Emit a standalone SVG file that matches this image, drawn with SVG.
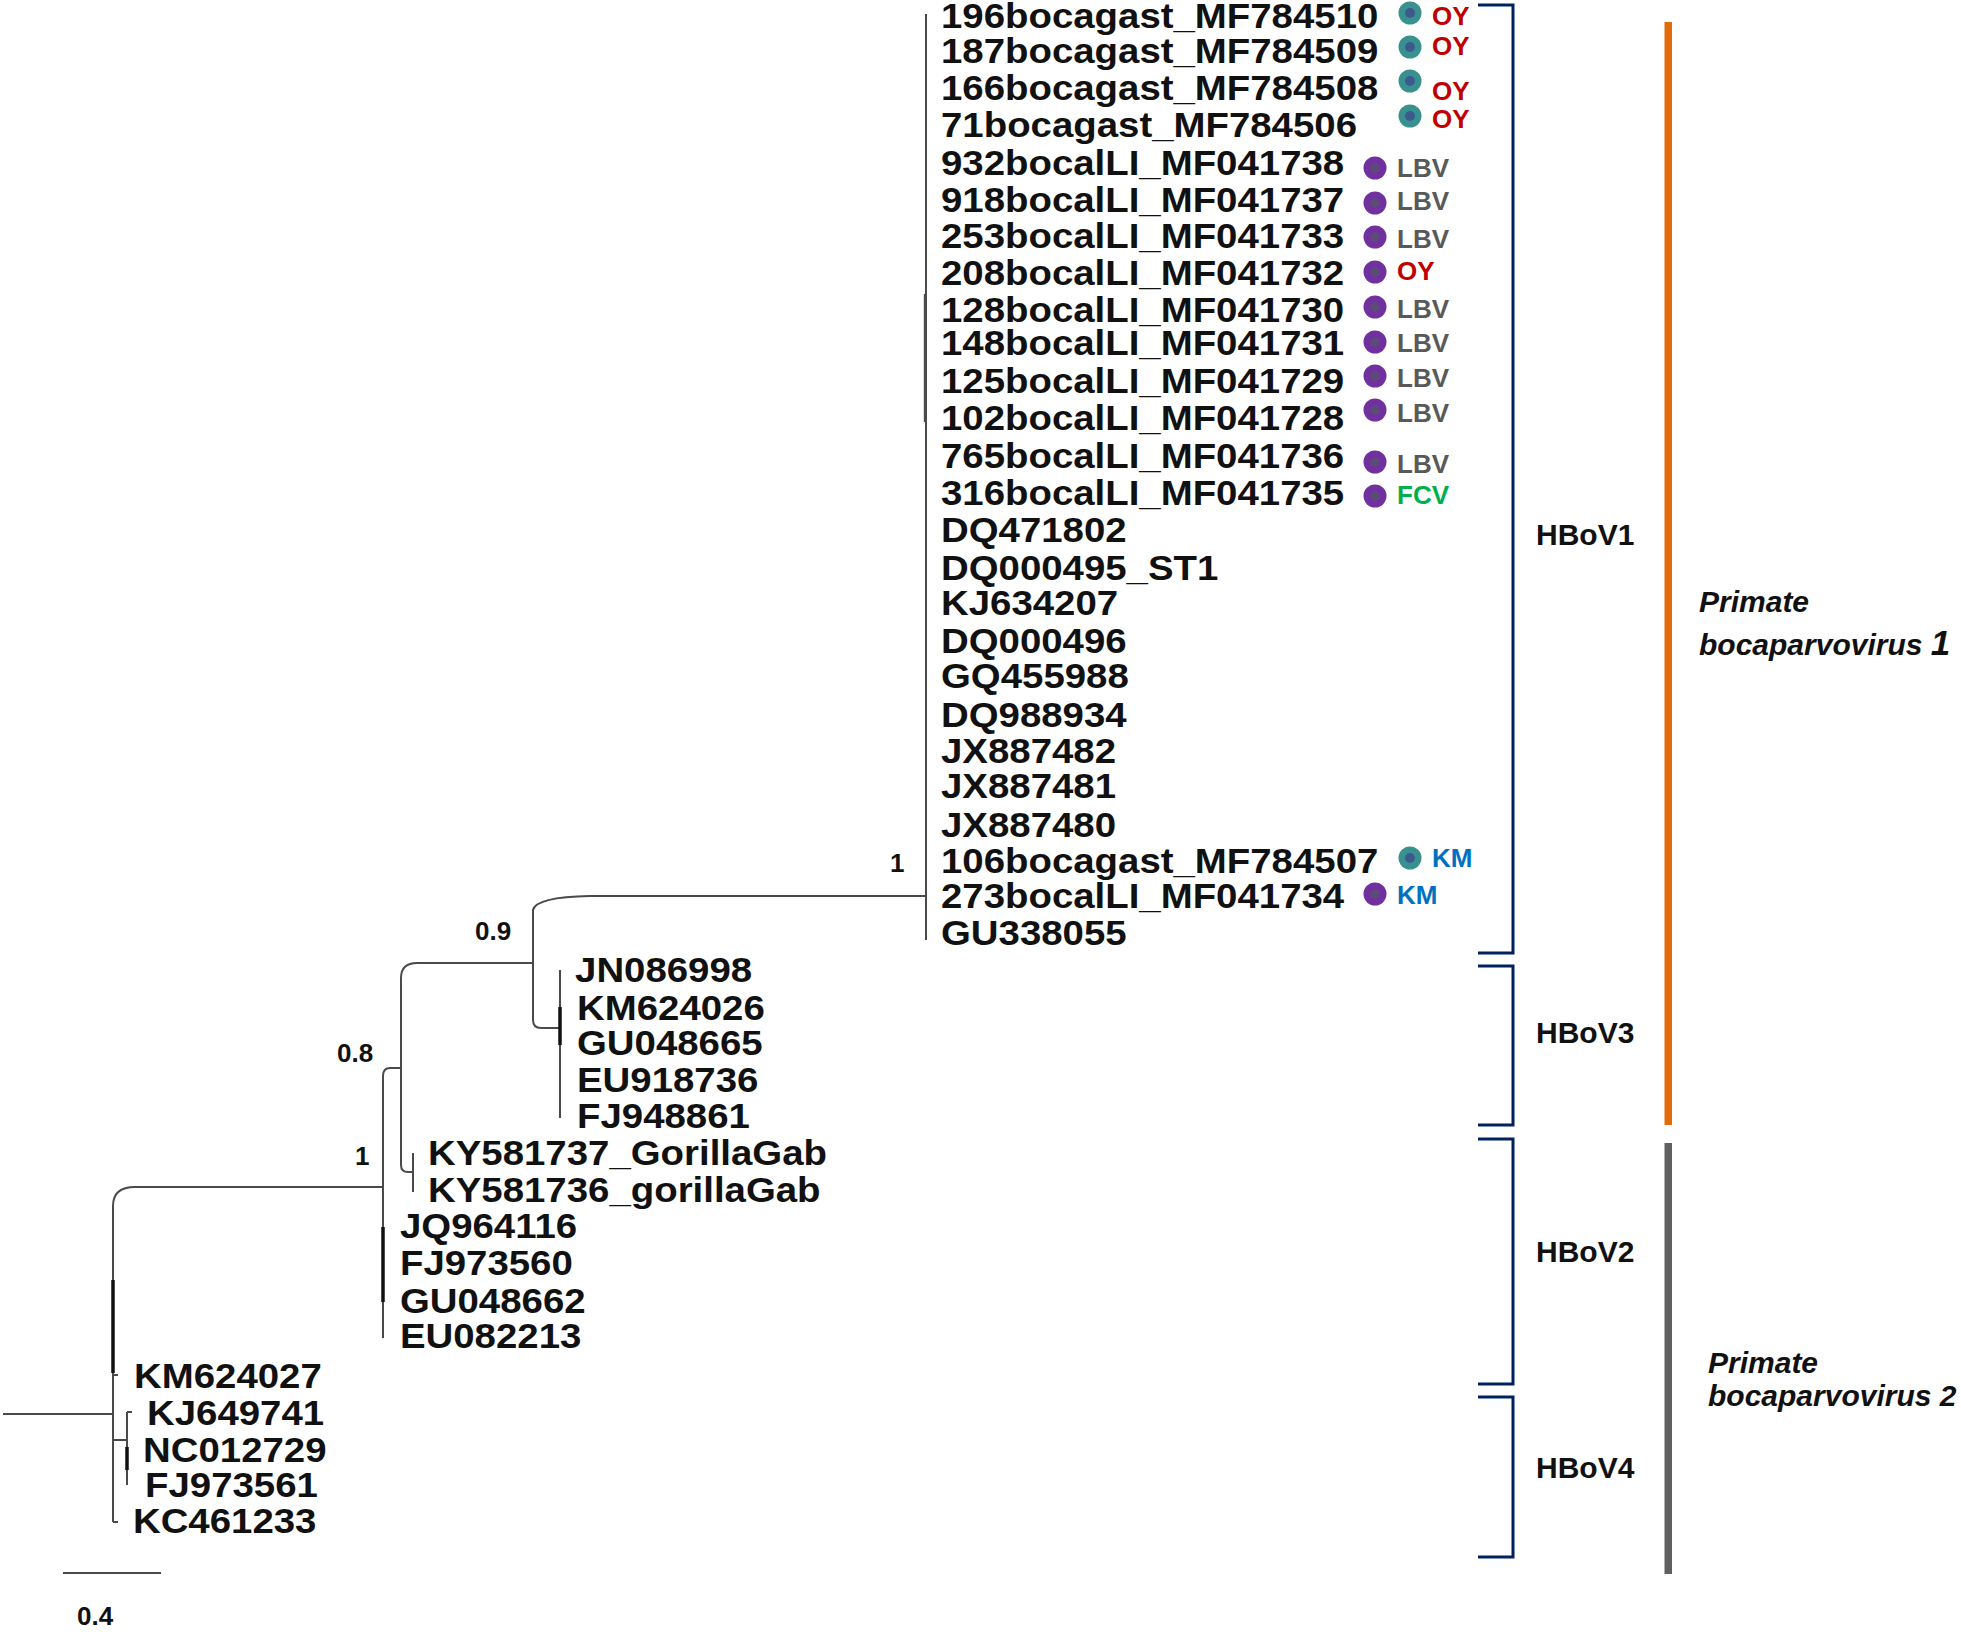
<svg xmlns="http://www.w3.org/2000/svg" xmlns:xlink="http://www.w3.org/1999/xlink" width="1961" height="1637" viewBox="0 0 1961 1637">
<style>
.br{stroke:#4a4a4a;stroke-width:2;fill:none}
.thk{stroke:#111;stroke-width:3.5;fill:none}
.lbl{font-family:"Liberation Sans",Arial,sans-serif;font-weight:bold;font-size:35px;fill:#111}
.st{font-family:"Liberation Sans",Arial,sans-serif;font-weight:bold;font-size:26px}
.oy{fill:#c00000}.lbv{fill:#595959}.fcv{fill:#00b050}.km{fill:#0070c0}
.sup{font-family:"Liberation Sans",Arial,sans-serif;font-weight:bold;font-size:26px;fill:#111}
.bkt{stroke:#002060;stroke-width:3;fill:none}
.grp{font-family:"Liberation Sans",Arial,sans-serif;font-weight:bold;font-size:30px;fill:#111}
.sp{font-family:"Liberation Sans",Arial,sans-serif;font-weight:bold;font-style:italic;font-size:30px;fill:#111}
</style>
<defs>
<g id="teal"><circle r="11.5" fill="#38918f"/><circle r="5" fill="#3d5a8c"/></g>
<g id="purp"><circle r="11.5" fill="#7030a0"/><circle r="5" fill="#5e4a7a"/></g>
</defs>
<rect width="1961" height="1637" fill="#fff"/>

<g id="connectors">
<path class="br" d="M3 1414 H113"/>
<path class="br" d="M113 1522 V1206 Q113 1187 135 1187 H383"/>
<path class="thk" d="M113 1280 V1373"/>
<path class="br" d="M113 1375 H118 M113 1522 H118 M113 1440 H127 M127 1412 V1485 M127 1412 H132"/>
<path class="thk" d="M127 1447 V1470"/>
<path class="br" d="M383 1338 V1076 Q383 1068 390 1068 H401"/>
<path class="thk" d="M383 1227 V1302"/>
<path class="br" d="M533 963 H417 Q401 963 401 978 V1165 Q401 1172 408 1172 H413 M413 1153 V1192"/>
<path class="br" d="M926 896 H590 Q536 897 533 910 V1020 Q533 1028 541 1028 H560 M560 970 V1118"/>
<path class="thk" d="M560 1007 V1045"/>
<path class="br" d="M926 14 V940"/>
<path class="br" d="M924.8 294 V422" stroke-width="1.5"/>
<path class="br" d="M63 1573 H161" stroke-width="2.5"/>
</g>

<g id="support">
<text class="sup" x="890" y="872">1</text>
<text class="sup" x="475" y="940">0.9</text>
<text class="sup" x="337" y="1062">0.8</text>
<text class="sup" x="355" y="1165">1</text>
<text class="sup" x="77" y="1625" font-size="31">0.4</text>
</g>

<g id="leaves" transform="scale(1.097 1)" class="lbl">
<text x="857.8" y="28">196bocagast_MF784510</text>
<text x="857.8" y="63">187bocagast_MF784509</text>
<text x="857.8" y="100">166bocagast_MF784508</text>
<text x="857.8" y="137">71bocagast_MF784506</text>
<text x="857.8" y="175">932bocalLI_MF041738</text>
<text x="857.8" y="212">918bocalLI_MF041737</text>
<text x="857.8" y="248">253bocalLI_MF041733</text>
<text x="857.8" y="285">208bocalLI_MF041732</text>
<text x="857.8" y="322">128bocalLI_MF041730</text>
<text x="857.8" y="355">148bocalLI_MF041731</text>
<text x="857.8" y="393">125bocalLI_MF041729</text>
<text x="857.8" y="430">102bocalLI_MF041728</text>
<text x="857.8" y="468">765bocalLI_MF041736</text>
<text x="857.8" y="505">316bocalLI_MF041735</text>
<text x="857.8" y="542">DQ471802</text>
<text x="857.8" y="580">DQ000495_ST1</text>
<text x="857.8" y="615">KJ634207</text>
<text x="857.8" y="653">DQ000496</text>
<text x="857.8" y="688">GQ455988</text>
<text x="857.8" y="727">DQ988934</text>
<text x="857.8" y="763">JX887482</text>
<text x="857.8" y="798">JX887481</text>
<text x="857.8" y="837">JX887480</text>
<text x="857.8" y="873">106bocagast_MF784507</text>
<text x="857.8" y="908">273bocalLI_MF041734</text>
<text x="857.8" y="945">GU338055</text>
<text x="524.2" y="982">JN086998</text>
<text x="526" y="1020">KM624026</text>
<text x="526" y="1055">GU048665</text>
<text x="526" y="1092">EU918736</text>
<text x="526" y="1128">FJ948861</text>
<text x="390.2" y="1165">KY581737_GorillaGab</text>
<text x="390.2" y="1202">KY581736_gorillaGab</text>
<text x="364.6" y="1238">JQ964116</text>
<text x="364.6" y="1275">FJ973560</text>
<text x="364.6" y="1313">GU048662</text>
<text x="364.6" y="1348">EU082213</text>
<text x="122.2" y="1388">KM624027</text>
<text x="134" y="1425">KJ649741</text>
<text x="130.4" y="1462">NC012729</text>
<text x="132.2" y="1497">FJ973561</text>
<text x="121.2" y="1533">KC461233</text>
</g>

<g id="markers">
<use xlink:href="#teal" href="#teal" x="1410" y="13"/>
<use xlink:href="#teal" href="#teal" x="1410" y="47"/>
<use xlink:href="#teal" href="#teal" x="1410" y="81"/>
<use xlink:href="#teal" href="#teal" x="1410" y="116"/>
<use xlink:href="#purp" href="#purp" x="1375" y="168"/>
<use xlink:href="#purp" href="#purp" x="1375" y="203"/>
<use xlink:href="#purp" href="#purp" x="1375" y="237"/>
<use xlink:href="#purp" href="#purp" x="1375" y="272"/>
<use xlink:href="#purp" href="#purp" x="1375" y="307"/>
<use xlink:href="#purp" href="#purp" x="1375" y="342"/>
<use xlink:href="#purp" href="#purp" x="1375" y="376"/>
<use xlink:href="#purp" href="#purp" x="1375" y="410"/>
<use xlink:href="#purp" href="#purp" x="1375" y="462"/>
<use xlink:href="#purp" href="#purp" x="1375" y="496"/>
<use xlink:href="#teal" href="#teal" x="1410" y="858"/>
<use xlink:href="#purp" href="#purp" x="1375" y="894"/>
<text class="st oy" x="1432" y="25">OY</text>
<text class="st oy" x="1432" y="55">OY</text>
<text class="st oy" x="1432" y="100">OY</text>
<text class="st oy" x="1432" y="128">OY</text>
<text class="st lbv" x="1397" y="177">LBV</text>
<text class="st lbv" x="1397" y="210">LBV</text>
<text class="st lbv" x="1397" y="248">LBV</text>
<text class="st oy" x="1397" y="280">OY</text>
<text class="st lbv" x="1397" y="318">LBV</text>
<text class="st lbv" x="1397" y="352">LBV</text>
<text class="st lbv" x="1397" y="387">LBV</text>
<text class="st lbv" x="1397" y="422">LBV</text>
<text class="st lbv" x="1397" y="473">LBV</text>
<text class="st fcv" x="1397" y="504">FCV</text>
<text class="st km" x="1432" y="867">KM</text>
<text class="st km" x="1397" y="904">KM</text>
</g>

<g id="HBoV1">
<path class="bkt" d="M1478 5 H1513 V953 H1478"/>
<text class="grp" x="1536" y="545">HBoV1</text>
</g>
<g id="HBoV3">
<path class="bkt" d="M1478 966 H1513 V1125 H1478"/>
<text class="grp" x="1536" y="1043">HBoV3</text>
</g>
<g id="HBoV2">
<path class="bkt" d="M1478 1139 H1513 V1384 H1478"/>
<text class="grp" x="1536" y="1262">HBoV2</text>
</g>
<g id="HBoV4">
<path class="bkt" d="M1478 1397 H1513 V1557 H1478"/>
<text class="grp" x="1536" y="1478">HBoV4</text>
</g>

<g id="species1">
<rect x="1664.5" y="22" width="7.5" height="1103" fill="#e36c0a"/>
<text class="sp" x="1699" y="612">Primate</text>
<text class="sp" x="1699" y="655">bocaparvovirus <tspan font-size="35">1</tspan></text>
</g>
<g id="species2">
<rect x="1664.5" y="1143" width="7.5" height="431" fill="#606060"/>
<text class="sp" x="1708" y="1373">Primate</text>
<text class="sp" x="1708" y="1406">bocaparvovirus 2</text>
</g>
</svg>
